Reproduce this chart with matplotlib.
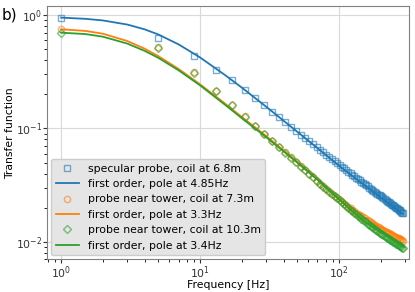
import matplotlib
matplotlib.use("Agg")
import matplotlib.pyplot as plt

# measured points: frequency grid (Hz)
freq = [1, 5, 9, 13, 17, 21, 25, 29, 33, 37, 41, 45, 49, 53, 57, 61, 65, 69, 73, 77,
        81, 85, 89, 93, 97, 101, 105, 109, 113, 117, 121, 125, 129, 133, 137, 141,
        145, 149, 153, 157, 161, 165, 169, 173, 177, 181, 185, 189, 193, 197, 201,
        205, 209, 213, 217, 221, 225, 229, 233, 237, 241, 245, 249, 253, 257, 261,
        265, 269, 273, 277, 281, 285, 289]

specular = [0.947, 0.63, 0.44, 0.33, 0.265, 0.217, 0.185, 0.160, 0.140, 0.125, 0.113,
            0.103, 0.0950, 0.0880, 0.0820, 0.0777, 0.0729, 0.0687, 0.0650, 0.0617,
            0.0587, 0.0560, 0.0535, 0.0512, 0.0492, 0.0474, 0.0458, 0.0443, 0.0428,
            0.0415, 0.0402, 0.0390, 0.0379, 0.0368, 0.0358, 0.0349, 0.0340, 0.0331,
            0.0323, 0.0316, 0.0308, 0.0301, 0.0295, 0.0288, 0.0282, 0.0276, 0.0271,
            0.0266, 0.0260, 0.0256, 0.0251, 0.0246, 0.0242, 0.0238, 0.0234, 0.0230,
            0.0226, 0.0222, 0.0219, 0.0215, 0.0212, 0.0209, 0.0206, 0.0202, 0.0200,
            0.0197, 0.0194, 0.0191, 0.0189, 0.0186, 0.0184, 0.0181, 0.0179]

tower_7m = [0.75, 0.52, 0.312, 0.214, 0.161, 0.128, 0.104, 0.0900, 0.0779, 0.0688,
            0.0614, 0.0555, 0.0505, 0.0463, 0.0428, 0.0397, 0.0370, 0.0346, 0.0326,
            0.0308, 0.0292, 0.0278, 0.0265, 0.0253, 0.0243, 0.0234, 0.0225, 0.0217,
            0.0210, 0.0203, 0.0197, 0.0191, 0.0186, 0.0181, 0.0176, 0.0172, 0.0168,
            0.0164, 0.0161, 0.0157, 0.0154, 0.0151, 0.0148, 0.0146, 0.0143, 0.0141,
            0.0138, 0.0136, 0.0134, 0.0132, 0.0130, 0.0128, 0.0127, 0.0125, 0.0123,
            0.0122, 0.0120, 0.0119, 0.0117, 0.0116, 0.0115, 0.0113, 0.0112, 0.0111,
            0.0110, 0.0109, 0.0108, 0.0107, 0.0106, 0.0105, 0.0104, 0.0103, 0.0102]

tower_10m = [0.70, 0.515, 0.310, 0.213, 0.160, 0.127, 0.104, 0.0895, 0.0775, 0.0685,
             0.0612, 0.0553, 0.0503, 0.0461, 0.0427, 0.0396, 0.0369, 0.0345, 0.0325,
             0.0307, 0.0291, 0.0277, 0.0264, 0.0252, 0.0242, 0.0234, 0.0224, 0.0215,
             0.0207, 0.0199, 0.0192, 0.0185, 0.0180, 0.0174, 0.0169, 0.0164, 0.0160,
             0.0155, 0.0152, 0.0148, 0.0144, 0.0141, 0.0138, 0.0135, 0.0132, 0.0130,
             0.0127, 0.0125, 0.0122, 0.0120, 0.0118, 0.0116, 0.0115, 0.0113, 0.0110,
             0.0109, 0.0107, 0.0106, 0.0104, 0.0103, 0.0102, 0.0100, 0.00986, 0.00974,
             0.00963, 0.00952, 0.00941, 0.00930, 0.00919, 0.00909, 0.00899, 0.00888,
             0.00877]

# fitted first order curves
fit_freq = [1, 1.5, 2, 3, 4, 5, 7, 10, 15, 20, 30, 50, 70, 100, 150, 200, 289]
fit_specular = [0.950, 0.927, 0.897, 0.825, 0.748, 0.675, 0.552, 0.423, 0.298, 0.229,
                0.155, 0.0936, 0.0670, 0.0470, 0.0320, 0.0247, 0.0175]
fit_7m = [0.75, 0.725, 0.685, 0.59, 0.505, 0.435, 0.335, 0.245, 0.167, 0.126, 0.0855,
          0.0510, 0.0360, 0.0242, 0.0163, 0.0134, 0.0106]
fit_10m = [0.70, 0.68, 0.645, 0.56, 0.483, 0.42, 0.326, 0.240, 0.163, 0.123, 0.0835,
           0.0500, 0.0352, 0.0236, 0.0153, 0.0122, 0.0090]

c_blue = "#1f77b4"
c_orange = "#ff7f0e"
c_green = "#2ca02c"

fig = plt.figure(figsize=(4.15, 2.92), dpi=100)
ax = fig.add_axes([0.113, 0.112, 0.873, 0.867])

ax.loglog(freq, specular, "s", mfc="none", mec=c_blue, ms=4.5, alpha=0.6,
          label="specular probe, coil at 6.8m")
ax.loglog(fit_freq, fit_specular, "-", color=c_blue, lw=1.3,
          label="first order, pole at 4.85Hz")
ax.loglog(freq, tower_7m, "o", mfc="none", mec=c_orange, ms=4.5, alpha=0.6,
          label="probe near tower, coil at 7.3m")
ax.loglog(fit_freq, fit_7m, "-", color=c_orange, lw=1.3,
          label="first order, pole at 3.3Hz")
ax.loglog(freq, tower_10m, "D", mfc="none", mec=c_green, ms=4, alpha=0.6,
          label="probe near tower, coil at 10.3m")
ax.loglog(fit_freq, fit_10m, "-", color=c_green, lw=1.3,
          label="first order, pole at 3.4Hz")

ax.set_xlim(0.79, 320)
ax.set_ylim(0.0070, 1.2)
ax.grid(True, which="major", color="#d9d9d9", lw=0.8)
for s in ax.spines.values():
    s.set_color("#808080")
ax.tick_params(labelsize=7.8, colors="#333333", pad=0.5, length=3)
ax.tick_params(which="minor", length=2)
ax.set_xlabel("Frequency [Hz]", fontsize=7.8)
ax.set_ylabel("Transfer function", fontsize=7.8)
ax.xaxis.set_label_coords(0.5, -0.083)
ax.yaxis.set_label_coords(-0.088, 0.5)

leg = ax.legend(loc="lower left", fontsize=7.8, facecolor="#e5e5e5", edgecolor="#cccccc",
                framealpha=1.0, borderaxespad=0.4, handlelength=2.2)

fig.text(0.003, 0.975, "b)", fontsize=11, va="top", ha="left")

fig.savefig("out.png", dpi=100)
